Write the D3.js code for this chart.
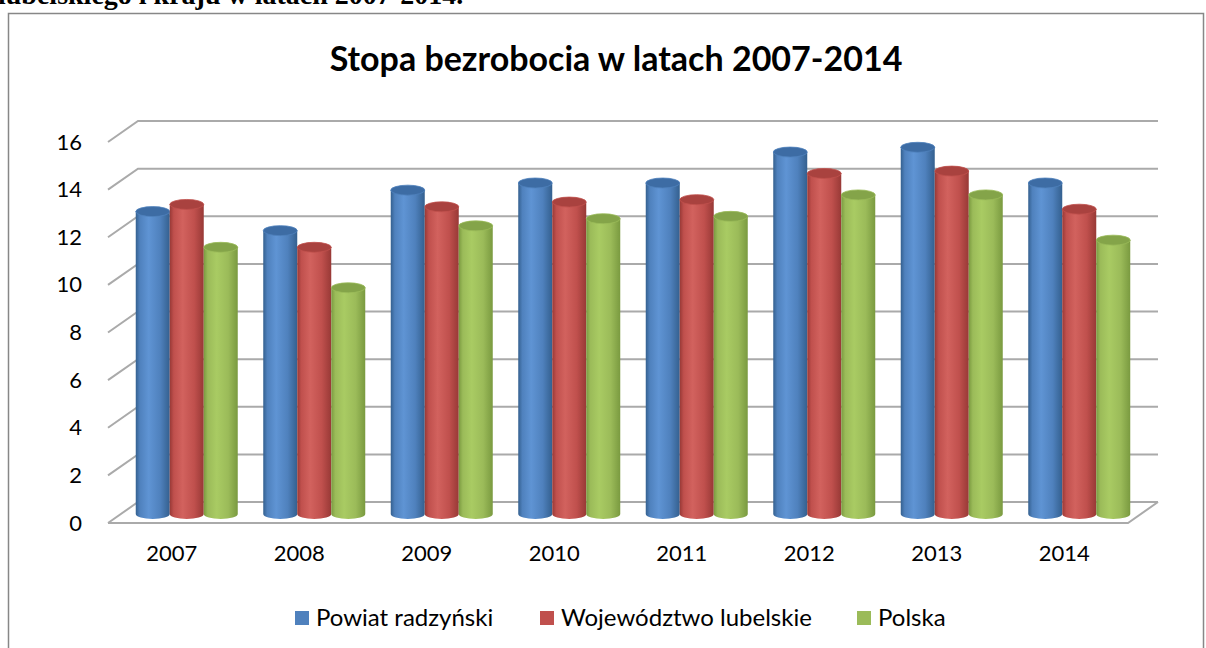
<!DOCTYPE html>
<html>
<head>
<meta charset="utf-8">
<script src="https://cdn.jsdelivr.net/npm/d3@7"></script>
<style>
  html, body { margin: 0; padding: 0; background: #ffffff; }
  svg { display: block; }
</style>
</head>
<body>
<svg id="chart" width="1206" height="648"></svg>
<script>
const categories = ["2007", "2008", "2009", "2010", "2011", "2012", "2013", "2014"];
const seriesNames = ["Powiat radzyński", "Województwo lubelskie", "Polska"];
const powiat = [12.7, 11.9, 13.6, 13.9, 13.9, 15.2, 15.4, 13.9];
const wojewodztwo = [13.0, 11.2, 12.9, 13.1, 13.2, 14.3, 14.4, 12.8];
const polska = [11.2, 9.5, 12.1, 12.4, 12.5, 13.4, 13.4, 11.5];
const yTicks = [0, 2, 4, 6, 8, 10, 12, 14, 16];
const titleText = "Stopa bezrobocia w latach 2007-2014";
const headingText = "lubelskiego i kraju w latach 2007-2014.";

const seriesValues = [powiat, wojewodztwo, polska];
const palette = [
  { base: "#4F81BD", dark: "#34608f", light: "#5f94d4", top: "#3d6ca4" },
  { base: "#C0504D", dark: "#983936", light: "#d2625e", top: "#a9423f" },
  { base: "#9BBB59", dark: "#7a9a40", light: "#a9cb63", top: "#84a449" }
];

const svg = d3.select("#chart");
const defs = svg.append("defs");
palette.forEach((p, i) => {
  const g = defs.append("linearGradient").attr("id", "cyl" + i)
    .attr("x1", "0%").attr("x2", "100%").attr("y1", "0%").attr("y2", "0%");
  g.append("stop").attr("offset", "0%").attr("stop-color", p.dark);
  g.append("stop").attr("offset", "12%").attr("stop-color", p.base);
  g.append("stop").attr("offset", "38%").attr("stop-color", p.light);
  g.append("stop").attr("offset", "72%").attr("stop-color", p.base);
  g.append("stop").attr("offset", "100%").attr("stop-color", p.dark);
});

// cut-off heading of the document above the chart
svg.append("text")
  .attr("x", -2).attr("y", 4)
  .attr("font-family", "Liberation Serif, DejaVu Serif, serif")
  .attr("font-weight", "bold")
  .attr("font-size", 28)
  .attr("fill", "#000")
  .text(headingText);

// chart frame
svg.append("path")
  .attr("d", "M8.5,660 L8.5,13.5 L1203.5,13.5 L1203.5,660")
  .attr("fill", "none").attr("stroke", "#878787").attr("stroke-width", 1.5);

// title
svg.append("text")
  .attr("x", 616).attr("y", 71)
  .attr("text-anchor", "middle")
  .attr("font-family", "Lato, Carlito, sans-serif")
  .attr("font-weight", "bold")
  .attr("font-size", 34)
  .attr("fill", "#000")
  .text(titleText);

// geometry
const x0 = 108, x1 = 1128;
const depthX = 30, depthY = -21;
const yFront = d3.scaleLinear().domain([0, 16]).range([523, 142]);
const xBand = d3.scaleBand().domain(categories).range([x0, x1]).paddingInner(0.2).paddingOuter(0.1);
const xSeries = d3.scaleBand().domain(d3.range(3)).range([0, xBand.bandwidth()]);
const barDX = 15, barDY = -9;
const yBar = d3.scaleLinear().domain([0, 16]).range([yFront(0) + barDY, yFront(16) + barDY]);

const grid = svg.append("g").attr("stroke", "#aaaaaa").attr("stroke-width", 2).attr("fill", "none");
yTicks.forEach(t => {
  const yf = yFront(t);
  grid.append("path")
    .attr("d", `M${x0},${yf} L${x0 + depthX},${yf + depthY} L${x1 + depthX},${yf + depthY}`);
});
// floor front edge and right edge
grid.append("path")
  .attr("d", `M${x0},${yFront(0)} L${x1},${yFront(0)} L${x1 + depthX},${yFront(0) + depthY}`);

// y axis labels
const yAxis = d3.axisLeft(yFront).tickValues(yTicks).tickSize(0).tickPadding(0);
const yg = svg.append("g").attr("transform", `translate(${x0 - 26},0)`).call(yAxis);
yg.select(".domain").remove();
yg.selectAll("text")
  .attr("font-family", "Lato, Carlito, sans-serif")
  .attr("font-size", 22)
  .attr("fill", "#000");

// x axis labels
const xAxis = d3.axisBottom(xBand).tickSize(0).tickPadding(0);
const xg = svg.append("g").attr("transform", `translate(0,${yFront(0) + 22})`).call(xAxis);
xg.select(".domain").remove();
xg.selectAll("text")
  .attr("font-family", "Lato, Carlito, sans-serif")
  .attr("font-size", 22)
  .attr("fill", "#000");

// cylinders
const barW = xSeries.bandwidth();
const ry = 5;
const bars = svg.append("g");
categories.forEach((c, ci) => {
  seriesValues.forEach((vals, si) => {
    const v = vals[ci];
    const left = xBand(c) + xSeries(si) + barDX;
    const rx = barW / 2;
    const cx = left + rx;
    const yt = yBar(v), yb = yBar(0);
    const g = bars.append("g");
    g.append("path")
      .attr("d", `M${left},${yt} L${left},${yb} A${rx},${ry} 0 0 0 ${left + barW},${yb} L${left + barW},${yt} Z`)
      .attr("fill", `url(#cyl${si})`);
    g.append("ellipse")
      .attr("cx", cx).attr("cy", yt).attr("rx", rx).attr("ry", ry)
      .attr("fill", palette[si].top)
      .attr("stroke", palette[si].base).attr("stroke-width", 0.8);
  });
});

// legend
const legendX = [295, 540, 857];
const legend = svg.append("g");
seriesNames.forEach((n, i) => {
  legend.append("rect")
    .attr("x", legendX[i]).attr("y", 611).attr("width", 14).attr("height", 14)
    .attr("fill", palette[i].base);
  legend.append("text")
    .attr("x", legendX[i] + 21).attr("y", 626)
    .attr("font-family", "Lato, Carlito, sans-serif")
    .attr("font-size", 24)
    .attr("fill", "#000")
    .text(n);
});
</script>
</body>
</html>
